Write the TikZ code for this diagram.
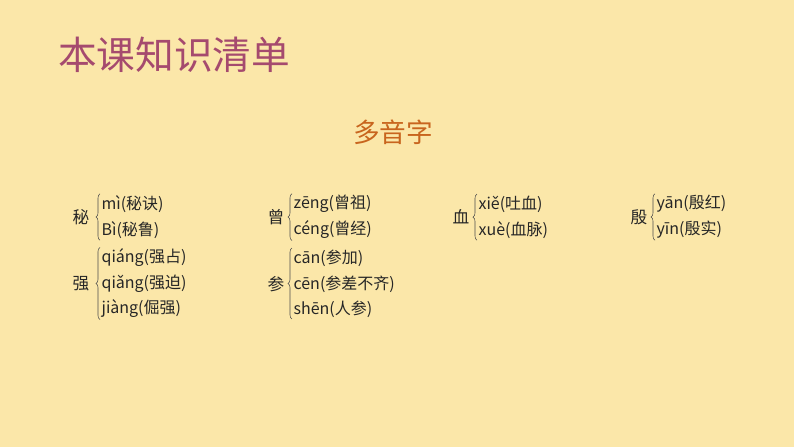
\documentclass[tikz,border=0pt]{standalone}
\usepackage{fontspec}
\newfontfamily\cjk{Noto Sans CJK SC}
\usetikzlibrary{positioning,decorations.pathreplacing}
\definecolor{bgyellow}{HTML}{FBE7A9}
\definecolor{titlered}{HTML}{A54A6E}
\definecolor{suborange}{HTML}{C8651E}
\tikzset{
  head/.style={font=\cjk\fontsize{12.5}{14}\selectfont, text=black!85, inner sep=1pt},
  item/.style={font=\cjk\fontsize{12}{14}\selectfont, text=black!85, anchor=west, inner sep=1pt},
  brc/.style={decorate, decoration={brace, mirror, amplitude=3pt}, draw=black!70, line width=0.4pt}
}
\begin{document}
\begin{tikzpicture}[x=0.75pt, y=-0.75pt]
    % background
	\fill[bgyellow] (0,0) rectangle (794,447);
    \useasboundingbox (0,0) rectangle (794,447);
    
    % title
    \node[anchor=west, text=titlered, font=\cjk\fontsize{29}{32}\selectfont, inner sep=0pt] (title) at (58,55) {本课知识清单};
    \node[text=suborange, font=\cjk\fontsize{20}{24}\selectfont] (subtitle) at (393,132) {多音字};
    
    % row 1
    \node[head] (bi) at (81,217) {秘};
    \node[item] (bi_a) at (100,204) {mì(秘诀)};
    \node[item] (bi_b) at (100,230) {Bì(秘鲁)};
    \draw[brc] (bi_a.north west) -- (bi_b.south west);
    
    \node[head] (ceng) at (276,217) {曾};
    \node[item] (ceng_a) at (292,204) {zēng(曾祖)};
    \node[item] (ceng_b) at (292,230) {céng(曾经)};
    \draw[brc] (ceng_a.north west) -- (ceng_b.south west);
    
    \node[head] (xue) at (461,217) {血};
    \node[item] (xue_a) at (477,204) {xiě(吐血)};
    \node[item] (xue_b) at (477,230) {xuè(血脉)};
    \draw[brc] (xue_a.north west) -- (xue_b.south west);
    
    \node[head] (yin) at (639,217) {殷};
    \node[item] (yin_a) at (655,204) {yān(殷红)};
    \node[item] (yin_b) at (655,230) {yīn(殷实)};
    \draw[brc] (yin_a.north west) -- (yin_b.south west);
    
    % row 2
    \node[head] (qiang) at (81,284) {强};
    \node[item] (qiang_a) at (100,258) {qiáng(强占)};
    \node[item] (qiang_b) at (100,284) {qiǎng(强迫)};
    \node[item] (qiang_c) at (100,309) {jiàng(倔强)};
    \draw[brc] (qiang_a.north west) -- (qiang_c.south west);
    
    \node[head] (can) at (276,284) {参};
    \node[item] (can_a) at (292,258) {cān(参加)};
    \node[item] (can_b) at (292,284) {cēn(参差不齐)};
    \node[item] (can_c) at (292,309) {shēn(人参)};
    \draw[brc] (can_a.north west) -- (can_c.south west);
\end{tikzpicture}
\end{document}
